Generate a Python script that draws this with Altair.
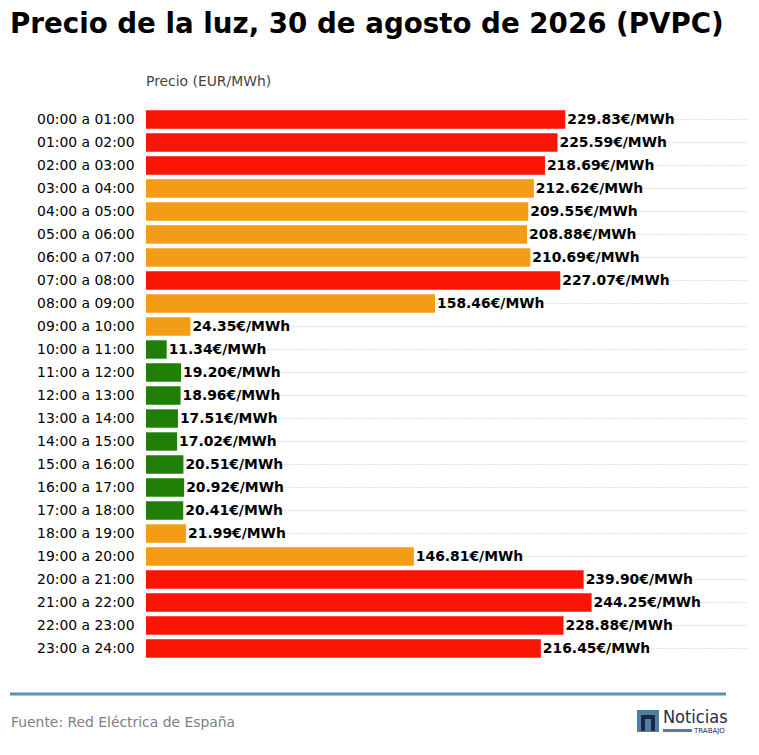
import altair as alt
import pandas as pd

titulo = "Precio de la luz, 30 de agosto de 2026 (PVPC)"
subtitulo = "Precio (EUR/MWh)"
fuente = "Fuente: Red Eléctrica de España"

horas = [f"{h:02d}:00 a {h+1:02d}:00" for h in range(24)]
precios = [229.83, 225.59, 218.69, 212.62, 209.55, 208.88, 210.69, 227.07,
           158.46, 24.35, 11.34, 19.20, 18.96, 17.51, 17.02, 20.51,
           20.92, 20.41, 21.99, 146.81, 239.90, 244.25, 228.88, 216.45]
niveles = ["alto", "alto", "alto", "medio", "medio", "medio", "medio", "alto",
           "medio", "medio", "bajo", "bajo", "bajo", "bajo", "bajo", "bajo",
           "bajo", "bajo", "medio", "medio", "alto", "alto", "alto", "alto"]

df = pd.DataFrame({"hora": horas, "precio": precios, "nivel": niveles})
df["etiqueta"] = df["precio"].map(lambda v: f"{v:.2f}€/MWh")

W, H = 602, 552
FS = 13.9

y_enc = alt.Y("hora:N", sort=horas, title=None,
              scale=alt.Scale(paddingInner=0.2, paddingOuter=0.1),
              axis=alt.Axis(labelFontSize=FS, labelColor="#000000", labelPadding=12,
                            ticks=False, domain=False, grid=True, gridDash=[1, 2],
                            gridColor="#c4c4c4", gridWidth=1, labelFont="DejaVu Sans"))
x_enc = alt.X("precio:Q", scale=alt.Scale(domain=[0, 330], nice=False), axis=None)

base = alt.Chart(df)
bars = base.mark_bar().encode(
    x=x_enc, y=y_enc,
    color=alt.Color("nivel:N", legend=None,
                    scale=alt.Scale(domain=["alto", "medio", "bajo"],
                                    range=["#fa1405", "#f39c16", "#1f7f06"])))
labels = base.mark_text(align="left", baseline="middle", dx=2, fontSize=FS,
                        fontWeight="bold", color="#000000").encode(
    x=x_enc, y=alt.Y("hora:N", sort=horas), text="etiqueta:N")

def txt(s, x, y, **kw):
    return alt.Chart(pd.DataFrame({"t": [s]})).mark_text(**kw).encode(
        x=alt.value(x), y=alt.value(y), text="t:N")

one = pd.DataFrame({"a": [0]})

def rect(x, x2, y, y2, color):
    return alt.Chart(one).mark_rect(color=color).encode(
        x=alt.value(x), x2=alt.value(x2), y=alt.value(y), y2=alt.value(y2))

title_l = txt(titulo, -136, -75, align="left", baseline="alphabetic", fontSize=27.7,
              fontWeight="bold", color="#000000")
sub_l = txt(subtitulo, 0, -26, align="left", baseline="middle", fontSize=FS, color="#444444")
rule_l = alt.Chart(one).mark_rule(color="#5b91ad", strokeWidth=3).encode(
    x=alt.value(-136), x2=alt.value(580), y=alt.value(586))
foot_l = txt(fuente, -135, 615, align="left", baseline="middle", fontSize=FS, color="#808080")
logo_sq = rect(491, 513, 602, 624, "#4f7fa6")
logo_n1 = rect(495, 509, 607, 623, "#1b2a48")
logo_n2 = rect(499, 505, 611, 623, "#4f7fa6")
logo_t = txt("Noticias", 517, 610, align="left", baseline="middle", fontSize=18,
             font="DejaVu Sans Condensed", color="#1e2d4f")
logo_bar = rect(517, 546, 621, 624, "#4f7fa6")
logo_s = txt("TRABAJO", 548, 623, align="left", baseline="middle", fontSize=7,
             color="#1e2d4f")

chart = alt.layer(bars, labels, title_l, sub_l, rule_l, foot_l, logo_sq, logo_n1,
                  logo_n2, logo_t, logo_bar, logo_s).properties(
    width=W, height=H,
    autosize=alt.AutoSizeParams(type="none"),
    padding={"left": 138, "top": 100, "right": 3, "bottom": 80},
    background="#ffffff",
).configure(font="DejaVu Sans", view=alt.ViewConfig(stroke=None))

chart.save("out.html", embed_options={"renderer": "svg", "actions": False})
